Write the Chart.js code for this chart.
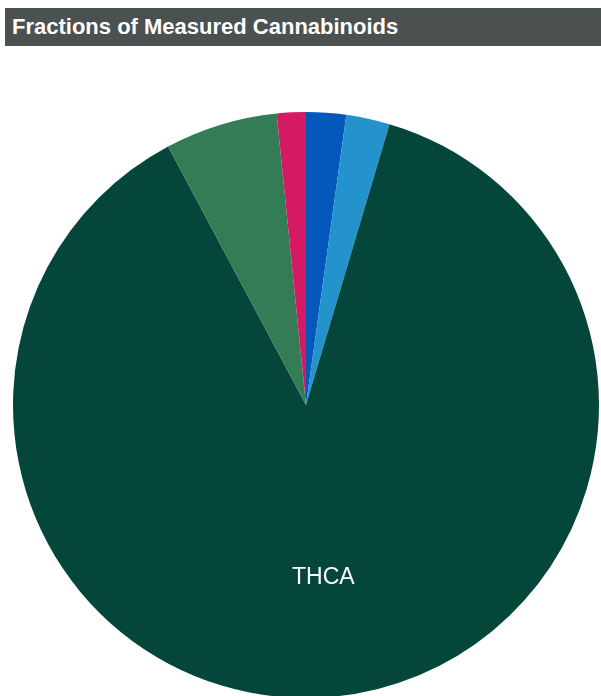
<!DOCTYPE html>
<html>
<head>
<meta charset="utf-8">
<script src="https://cdn.jsdelivr.net/npm/chart.js@4.4.0/dist/chart.umd.min.js"></script>
<style>
  html, body { margin: 0; padding: 0; background: #fff; overflow: hidden; }
  .title {
    position: absolute; left: 5px; top: 8px; width: 596px; height: 38px;
    background: #4b5050; color: #fff;
    font-family: "Liberation Sans", Arial, sans-serif; font-weight: bold; font-size: 22px;
    line-height: 38px; padding-left: 7px; box-sizing: border-box;
  }
  #pie { position: absolute; left: 13px; top: 112px; }
</style>
</head>
<body>
<div class="title">Fractions of Measured Cannabinoids</div>
<canvas id="pie" width="586" height="586" style="width:586px;height:586px"></canvas>
<script>
const labels = ['CBGA', 'CBG', 'THCA', 'Δ9-THC', 'CBN'];
const values = [2.2, 2.4, 87.6, 6.2, 1.6];
const colors = ['#0558bb', '#2392cd', '#05463a', '#347c55', '#d41a62'];

// draw the name inside slices that are big enough
const sliceLabels = {
  id: 'sliceLabels',
  afterDatasetsDraw(chart) {
    const ctx = chart.ctx;
    const meta = chart.getDatasetMeta(0);
    const total = values.reduce((a, b) => a + b, 0);
    ctx.save();
    ctx.fillStyle = '#fff';
    ctx.font = '23px "Liberation Sans", Arial, sans-serif';
    ctx.textAlign = 'center';
    ctx.textBaseline = 'middle';
    meta.data.forEach((arc, i) => {
      if (values[i] / total < 0.1) return;
      const mid = (arc.startAngle + arc.endAngle) / 2;
      const r = arc.outerRadius * 0.59;
      ctx.fillText(labels[i], arc.x + Math.cos(mid) * r, arc.y + Math.sin(mid) * r + 1);
    });
    ctx.restore();
  }
};

new Chart(document.getElementById('pie').getContext('2d'), {
  type: 'pie',
  data: {
    labels: labels,
    datasets: [{
      data: values,
      backgroundColor: colors,
      borderWidth: 0
    }]
  },
  options: {
    responsive: false,
    animation: false,
    layout: { padding: 0 },
    plugins: {
      legend: { display: false },
      tooltip: { enabled: false }
    }
  },
  plugins: [sliceLabels]
});
</script>
</body>
</html>
